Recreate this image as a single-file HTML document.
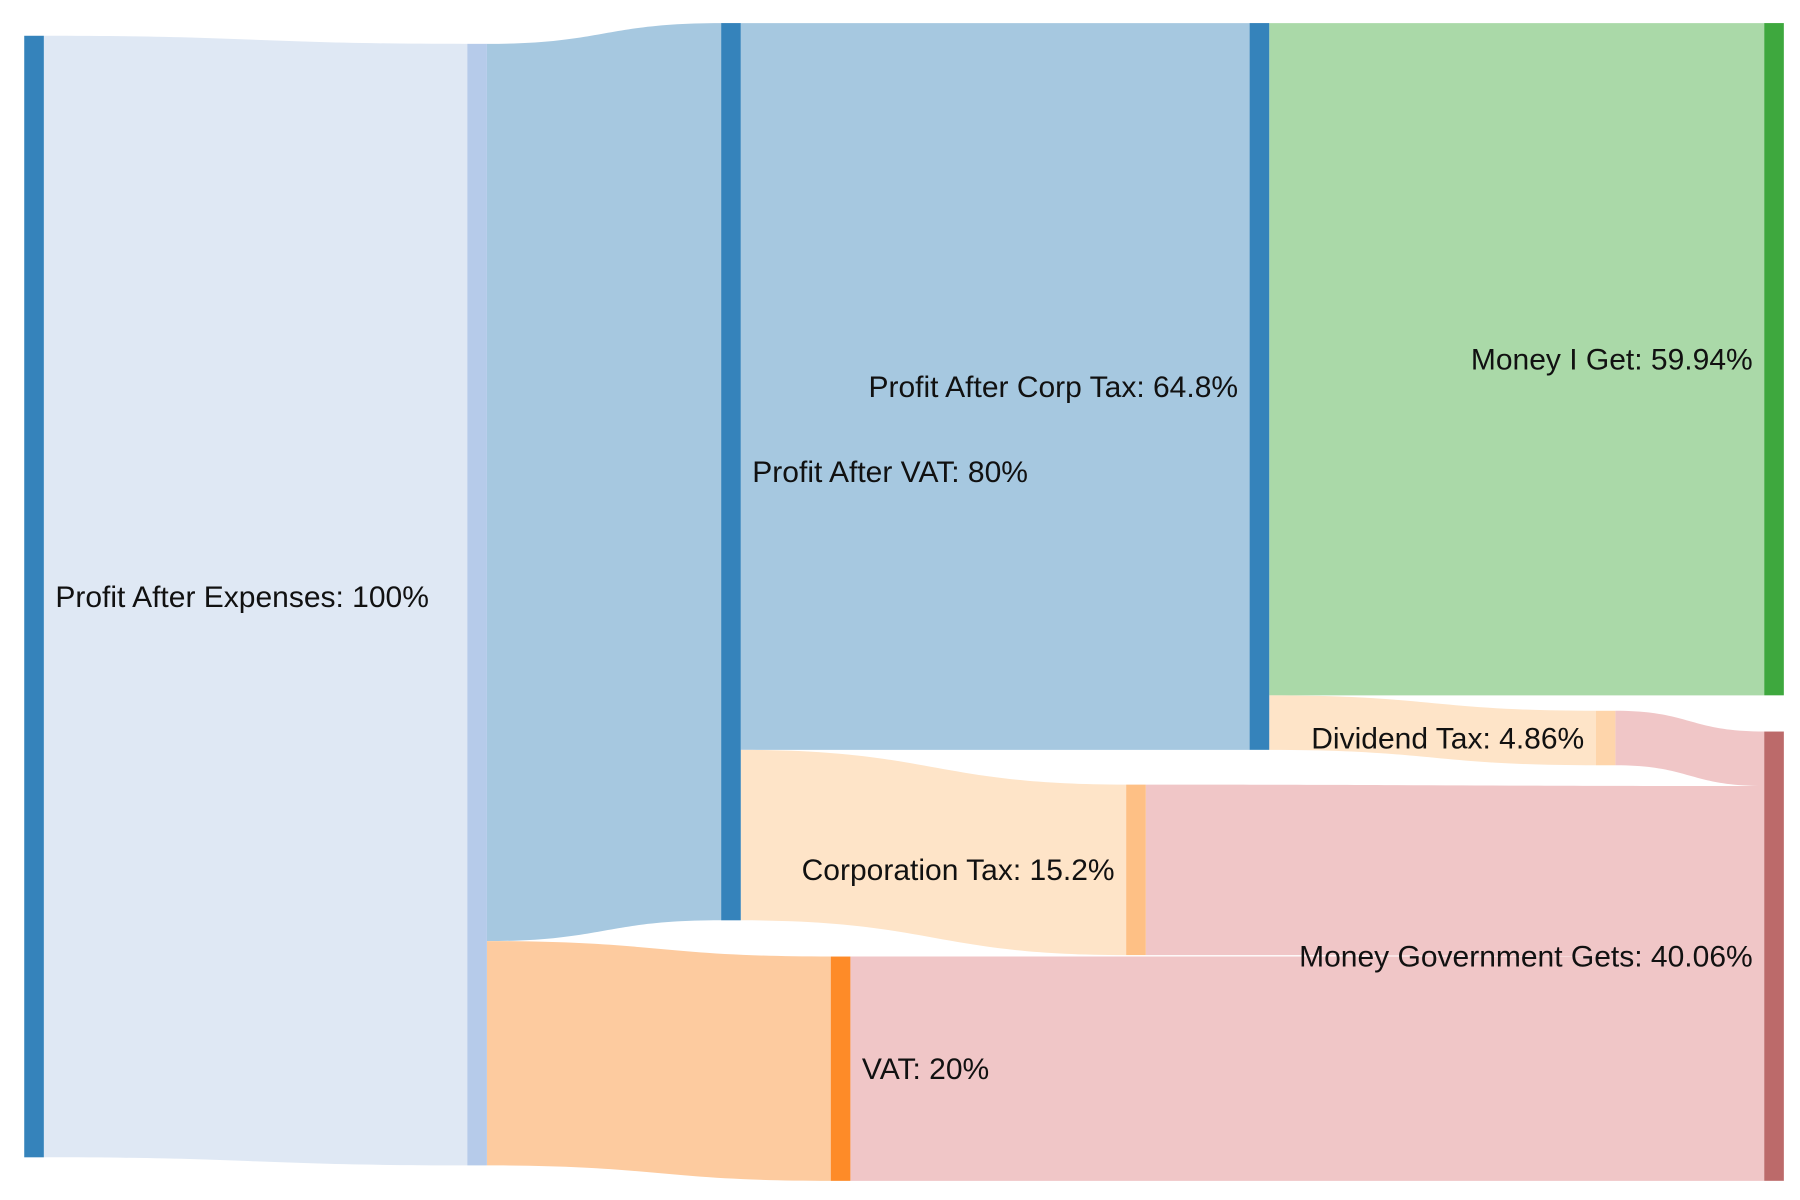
<!DOCTYPE html>
<html><head><meta charset="utf-8"><style>
html,body{margin:0;padding:0;background:#fff;}
svg{display:block;}
text{font-family:"Liberation Sans",Arial,sans-serif;font-size:26px;fill:#111;}
</style></head><body>
<svg id="chart" width="1800" height="1200" viewBox="0 0 1560 1040" xmlns="http://www.w3.org/2000/svg">
<g id="links"></g>
<g id="nodes"></g>
<g id="labels"></g>
</svg>
<script>
// data
const nodeLabels = ["Profit After Expenses: 100%", "", "Profit After VAT: 80%", "VAT: 20%", "Profit After Corp Tax: 64.8%", "Corporation Tax: 15.2%", "Dividend Tax: 4.86%", "Money I Get: 59.94%", "Money Government Gets: 40.06%"];
const linkSources = [0, 1, 1, 2, 2, 4, 4, 6, 5, 3];
const linkTargets = [1, 2, 3, 4, 5, 7, 6, 8, 8, 8];
const linkValues  = [100, 80, 20, 64.8, 15.2, 59.94, 4.86, 4.86, 15.2, 20];

// layout / style
const nodeColors = ["#3583bb","#b6cbea","#3583bb","#fe8b28","#3583bb","#fec085","#fed5ab","#3ea83e","#bc6a6a"];
const linkColors = ["#dfe8f4","#a6c8e0","#fdcb9f","#a6c8e0","#fee4c8","#aad9a8","#fee4c8","#f0c6c7","#f0c6c7","#f0c6c7"];
const nodeX = [21, 405, 625, 720, 1083, 976, 1383, 1529, 1529];
const nodeTop = [31, 38, 20, 829, 20, 680, 616, 20, 634];
const labelSide = [1, 1, 1, 1, -1, -1, -1, -1, -1];
const NW = 17, K = 9.72;

const NS = "http://www.w3.org/2000/svg";
const n = nodeLabels.length;
const inSum = new Array(n).fill(0), outSum = new Array(n).fill(0);
linkValues.forEach((v,i)=>{ outSum[linkSources[i]] += v; inSum[linkTargets[i]] += v; });
const nodeVal = nodeLabels.map((_,i)=>Math.max(inSum[i], outSum[i]));
const outOff = new Array(n).fill(0), inOff = new Array(n).fill(0);

const gL = document.getElementById('links');
linkValues.forEach((v,i)=>{
  const s = linkSources[i], t = linkTargets[i];
  const h = v*K;
  const y0 = nodeTop[s] + outOff[s]; outOff[s] += h;
  const y1 = nodeTop[t] + inOff[t]; inOff[t] += h;
  const x0 = nodeX[s] + NW, x1 = nodeX[t];
  const xm = (x0 + x1)/2;
  const d = `M${x0},${y0} C${xm},${y0} ${xm},${y1} ${x1},${y1} L${x1},${y1+h} C${xm},${y1+h} ${xm},${y0+h} ${x0},${y0+h} Z`;
  const p = document.createElementNS(NS,'path');
  p.setAttribute('d', d);
  p.setAttribute('fill', linkColors[i]);
  
  
  gL.appendChild(p);
});

const gN = document.getElementById('nodes'), gT = document.getElementById('labels');
nodeLabels.forEach((lab,i)=>{
  const h = nodeVal[i]*K;
  const r = document.createElementNS(NS,'rect');
  r.setAttribute('x', nodeX[i]); r.setAttribute('y', nodeTop[i]);
  r.setAttribute('width', NW); r.setAttribute('height', h);
  r.setAttribute('fill', nodeColors[i]);
  
  
  gN.appendChild(r);
  if (lab) {
    const t = document.createElementNS(NS,'text');
    const side = labelSide[i];
    t.setAttribute('x', side > 0 ? nodeX[i] + NW + 10 : nodeX[i] - 10);
    t.setAttribute('y', nodeTop[i] + h/2 + 9);
    t.setAttribute('text-anchor', side > 0 ? 'start' : 'end');
    t.textContent = lab;
    
    
    gT.appendChild(t);
  }
});
</script>
</body></html>
